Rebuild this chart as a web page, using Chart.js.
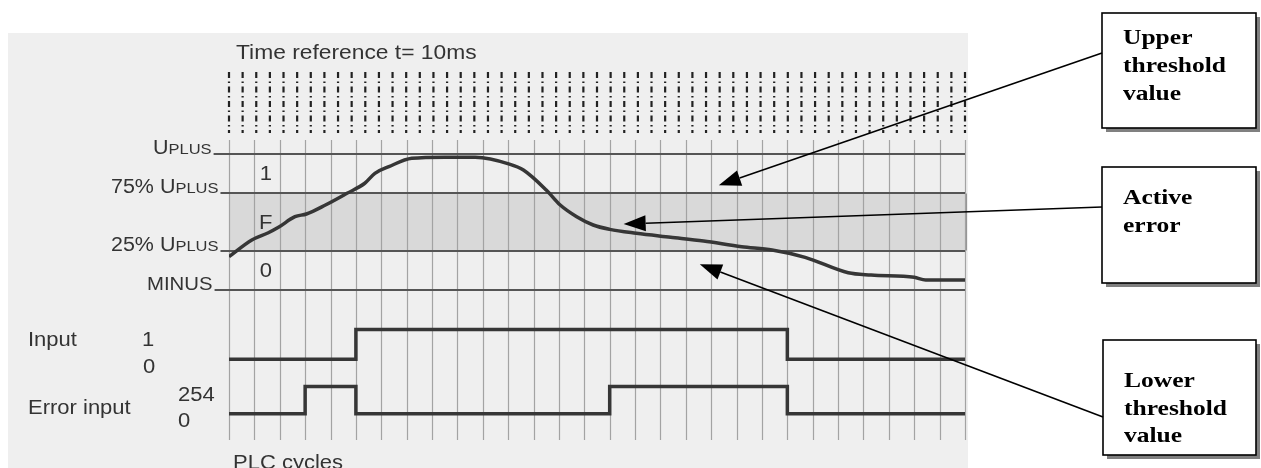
<!DOCTYPE html>
<html lang="en">
<head>
<meta charset="UTF-8">
<title>Threshold monitoring - timing diagram</title>
<script src="https://cdn.jsdelivr.net/npm/chart.js"></script>
<style>
    html, body { margin: 0; padding: 0; background: #fff; }
    canvas { display: block; }
</style>
</head>
<body>
<canvas id="timing" width="1261" height="468"></canvas>
<script>
// PLC cycles shown on the grid (0 .. 29)
const cycleCount = 29;
// number of 10ms time reference marks across the same span
const timeRefMarks = 55;

// analog value, in % between MINUS (0) and UPLUS (100)
const analogCycle = [0, 0.9, 1.55, 1.95, 2.6, 3.05, 3.8, 4.65, 5.35, 5.75, 6.3, 7.2, 8.5, 9.7, 11.05, 11.6, 12.5, 13.05, 13.7, 14.35, 15, 16.05, 17.4, 18.7, 20.2, 21.4, 22.7, 24.4, 25.3, 27, 27.45, 29];
const analogLevel = [24.5, 36.8, 42.1, 46.1, 53.9, 55.9, 62.5, 71.1, 78.5, 85.8, 90.7, 96.8, 97.7, 97.6, 92.6, 88.2, 73.5, 62.5, 53.9, 47.8, 44.6, 41.7, 38.8, 36, 31.8, 29.4, 24, 12.7, 11, 9.3, 7.4, 7.4];

// digital signals, one value per PLC cycle
const inputSignal = [0,0,0,0,0,1,1,1,1,1,1,1,1,1,1,1,1,1,1,1,1,1,0,0,0,0,0,0,0,0];
const errorInput  = [0,0,0,254,254,0,0,0,0,0,0,0,0,0,0,254,254,254,254,254,254,254,0,0,0,0,0,0,0,0];

// threshold lines and the zones between them
const thresholdNames  = ['UPLUS', '75% UPLUS', '25% UPLUS', 'MINUS'];
const thresholdLevels = [100, 71, 29, 0];
const zoneNames = ['1', 'F', '0'];

// callouts: text and the point (cycle, level) the arrow points at
const calloutTexts = [['Upper', 'threshold', 'value'], ['Active', 'error'], ['Lower', 'threshold', 'value']];
const calloutCycle = [19.3, 15.55, 18.55];
const calloutLevel = [77, 48.5, 19];

// where the digital lanes sit on the shared y scale
const inputLane = { low: -51, high: -29 };
const errorLane = { low: -91, high: -71 };

const SANS = '"Liberation Sans", Arial, sans-serif';
const SERIF = '"Liberation Serif", "Times New Roman", serif';
const INK = '#333';

function text(ctx, s, x, y, size, opt) {
    opt = opt || {};
    ctx.save();
    ctx.font = (opt.bold ? 'bold ' : '') + size + 'px ' + (opt.family || SANS);
    ctx.fillStyle = opt.color || INK;
    ctx.textAlign = opt.align || 'left';
    ctx.textBaseline = opt.baseline || 'alphabetic';
    ctx.translate(x, y);
    ctx.scale(opt.sx || 1.1, 1);
    ctx.fillText(s, 0, 0);
    const w = ctx.measureText(s).width * (opt.sx || 1.1);
    ctx.restore();
    return x + w;
}

// "75% UPLUS" with the PLUS part in small caps
function thresholdLabel(ctx, name, x, y) {
    const i = name.indexOf('UPLUS');
    if (i < 0) return text(ctx, name, x, y, 18.5);
    let end = x;
    if (i > 0) end = text(ctx, name.slice(0, i), end, y, 19.5);
    end = text(ctx, 'U', end, y, 19.5);
    return text(ctx, 'PLUS', end, y, 15);
}

const diagram = {
    id: 'diagram',
    beforeDraw(chart) {
        const ctx = chart.ctx;
        const xs = chart.scales.x, ys = chart.scales.y;
        const a = chart.chartArea;
        ctx.save();
        ctx.fillStyle = '#fff';
        ctx.fillRect(0, 0, chart.width, chart.height);
        // scanned page area
        ctx.fillStyle = '#efefef';
        ctx.fillRect(8, 33, 960, 435);

        // active error band
        const yTop = ys.getPixelForValue(thresholdLevels[1]);
        const yBot = ys.getPixelForValue(thresholdLevels[2]);
        ctx.fillStyle = '#d9d9d9';
        ctx.fillRect(a.left, yTop, a.right - a.left, yBot - yTop);
        ctx.strokeStyle = '#777';
        ctx.lineWidth = 1.5;
        ctx.beginPath();
        ctx.moveTo(a.right + 1, yTop);
        ctx.lineTo(a.right + 1, yBot);
        ctx.stroke();

        // PLC cycle grid
        ctx.strokeStyle = '#a3a3a3';
        ctx.lineWidth = 1.2;
        for (let c = 0; c <= cycleCount; c++) {
            const x = Math.round(xs.getPixelForValue(c)) + 0.5;
            ctx.beginPath();
            ctx.moveTo(x, a.top);
            ctx.lineTo(x, a.bottom);
            ctx.stroke();
        }

        // 10ms time reference marks
        ctx.strokeStyle = '#222';
        ctx.lineWidth = 2.2;
        ctx.setLineDash([6, 3.5, 1.5, 3.5]);
        for (let i = 0; i < timeRefMarks; i++) {
            const x = xs.getPixelForValue(i * cycleCount / (timeRefMarks - 1));
            ctx.beginPath();
            ctx.moveTo(x, 72);
            ctx.lineTo(x, 133);
            ctx.stroke();
        }
        ctx.setLineDash([]);
        text(ctx, 'Time reference t= 10ms', 236, 59, 20, { sx: 1.14 });

        // threshold lines with labels
        const labelX = [153, 111, 111, 147];
        thresholdLevels.forEach((lv, k) => {
            const y = Math.round(ys.getPixelForValue(lv));
            const end = thresholdLabel(ctx, thresholdNames[k], labelX[k], y);
            ctx.strokeStyle = '#555';
            ctx.lineWidth = 2;
            ctx.beginPath();
            ctx.moveTo(end + 2, y);
            ctx.lineTo(a.right, y);
            ctx.stroke();
        });
        zoneNames.forEach((z, k) => {
            const mid = (thresholdLevels[k] + thresholdLevels[k + 1]) / 2;
            text(ctx, z, xs.getPixelForValue(1.45), ys.getPixelForValue(mid) + 1, 20, { align: 'center', baseline: 'middle' });
        });

        // digital lane labels
        const inHi = ys.getPixelForValue(inputLane.high), inLo = ys.getPixelForValue(inputLane.low);
        const erHi = ys.getPixelForValue(errorLane.high), erLo = ys.getPixelForValue(errorLane.low);
        text(ctx, 'Input', 28, inHi + 17, 20);
        text(ctx, '1', 142, inHi + 17, 20);
        text(ctx, '0', 143, inLo + 14, 20);
        text(ctx, 'Error input', 28, erLo, 20);
        text(ctx, '254', 178, erHi + 14, 20);
        text(ctx, '0', 178, erLo + 13, 20);
        text(ctx, 'PLC cycles', 233, 469, 20);
        ctx.restore();
    },
    afterDraw(chart) {
        const ctx = chart.ctx;
        const xs = chart.scales.x, ys = chart.scales.y;
        const boxes = [
            { x: 1102, y: 13, w: 154, h: 115, lines: [44, 72, 100], from: 53 },
            { x: 1102, y: 167, w: 154, h: 116, lines: [204, 232], from: 207 },
            { x: 1103, y: 340, w: 153, h: 115, lines: [387, 415, 442], from: 417 }
        ];
        ctx.save();
        boxes.forEach((b, k) => {
            ctx.fillStyle = '#808080';
            ctx.fillRect(b.x + 4, b.y + 4, b.w, b.h);
            ctx.fillStyle = '#fff';
            ctx.fillRect(b.x, b.y, b.w, b.h);
            ctx.strokeStyle = '#000';
            ctx.lineWidth = 1.6;
            ctx.strokeRect(b.x, b.y, b.w, b.h);
            calloutTexts[k].forEach((t, j) => {
                text(ctx, t, b.x + 21, b.lines[j], 22, { bold: true, family: SERIF, color: '#000', sx: 1.16 });
            });

            // arrow from box to the marked spot
            const tx = xs.getPixelForValue(calloutCycle[k]);
            const ty = ys.getPixelForValue(calloutLevel[k]);
            const sx = b.x, sy = b.from;
            const ang = Math.atan2(ty - sy, tx - sx);
            const len = 22, half = 8;
            const bx = tx - Math.cos(ang) * len, by = ty - Math.sin(ang) * len;
            ctx.strokeStyle = '#000';
            ctx.lineWidth = 1.6;
            ctx.beginPath();
            ctx.moveTo(sx, sy);
            ctx.lineTo(bx, by);
            ctx.stroke();
            ctx.fillStyle = '#000';
            ctx.beginPath();
            ctx.moveTo(tx, ty);
            ctx.lineTo(bx + Math.sin(ang) * half, by - Math.cos(ang) * half);
            ctx.lineTo(bx - Math.sin(ang) * half, by + Math.cos(ang) * half);
            ctx.closePath();
            ctx.fill();
        });
        ctx.restore();
    }
};

function lane(values, max, l) {
    return values.map((v, i) => ({ x: i, y: l.low + (v / max) * (l.high - l.low) }));
}

const signalStyle = { borderColor: '#363636', borderWidth: 3.5, pointRadius: 0, fill: false };

new Chart(document.getElementById('timing'), {
    type: 'line',
    data: {
        datasets: [
            Object.assign({
                label: 'Analog value',
                data: analogCycle.map((c, i) => ({ x: c, y: analogLevel[i] })),
                cubicInterpolationMode: 'monotone'
            }, signalStyle),
            Object.assign({ label: 'Input', data: lane(inputSignal, 1, inputLane), stepped: true }, signalStyle),
            Object.assign({ label: 'Error input', data: lane(errorInput, 254, errorLane), stepped: true }, signalStyle)
        ]
    },
    options: {
        responsive: false,
        animation: false,
        layout: { padding: { left: 229, right: 296, top: 140, bottom: 28 } },
        scales: {
            x: { type: 'linear', min: 0, max: cycleCount, display: false },
            y: { min: -110.3, max: 110.3, display: false }
        },
        plugins: { legend: { display: false }, tooltip: { enabled: false } }
    },
    plugins: [diagram]
});
</script>
</body>
</html>
